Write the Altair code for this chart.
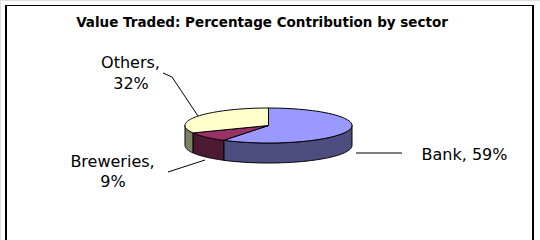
import altair as alt
import pandas as pd

# ---- data ----
sectors = ["Bank", "Breweries", "Others"]
shares = [59, 9, 32]
title_text = "Value Traded: Percentage Contribution by sector"

# ---- styles ----
top_colors = ["#9999FF", "#993366", "#FFFFCC"]
side_colors = ["#4D4D80", "#4D1A33", "#808066"]
FONT = "DejaVu Sans"

df = pd.DataFrame({"sector": sectors, "share": shares, "ord": list(range(len(sectors)))})

W, H = 540, 240
CX, CY, RX, RY, DEPTH = 268.5, 125.5, 83.5, 17.5, 20
depth_u = DEPTH / RY

xs = alt.Scale(domain=[-1, 1], range=[CX - RX, CX + RX])
ys = alt.Scale(domain=[-1, 1], range=[CY - RY, CY + RY])

base = (
    alt.Chart(df)
    .transform_window(cum="sum(share)", sort=[alt.SortField("ord")], frame=[None, 0])
    .transform_joinaggregate(total="sum(share)")
    .transform_calculate(a0="2*PI*(datum.cum - datum.share)/datum.total")
    .transform_calculate(a1="2*PI*datum.cum/datum.total")
)

side = (
    base.transform_calculate(b0="max(datum.a0, PI/2)")
    .transform_calculate(b1="min(datum.a1, 3*PI/2)")
    .transform_filter("datum.b0 < datum.b1")
    .transform_calculate(k="sequence(0, 61)")
    .transform_flatten(["k"])
    .transform_calculate(t="datum.b0 + (datum.b1 - datum.b0)*datum.k/60")
    .transform_calculate(px="sin(datum.t)")
    .transform_calculate(py="-cos(datum.t)")
    .transform_calculate(py2=f"-cos(datum.t) + {depth_u}")
    .mark_area(stroke="black", strokeWidth=1, opacity=1)
    .encode(
        x=alt.X("px:Q", scale=xs, axis=None),
        y=alt.Y("py:Q", scale=ys, axis=None, stack=None),
        y2="py2:Q",
        color=alt.Color("sector:N", scale=alt.Scale(domain=sectors, range=side_colors), legend=None),
        detail="sector:N",
    )
)

top = (
    base.transform_calculate(k="sequence(-1, 62)")
    .transform_flatten(["k"])
    .transform_calculate(t="datum.a0 + (datum.a1 - datum.a0)*min(max(datum.k, 0), 60)/60")
    .transform_calculate(ctr="datum.k < 0 || datum.k > 60")
    .transform_calculate(px="datum.ctr ? 0 : sin(datum.t)")
    .transform_calculate(py="datum.ctr ? 0 : -cos(datum.t)")
    .mark_line(filled=True, stroke="black", strokeWidth=1)
    .encode(
        x=alt.X("px:Q", scale=xs, axis=None),
        y=alt.Y("py:Q", scale=ys, axis=None),
        color=alt.Color("sector:N", scale=alt.Scale(domain=sectors, range=top_colors), legend=None),
        detail="sector:N",
        order="k:Q",
    )
)

one = pd.DataFrame({"a": [0]})


def rule(x1, y1, x2, y2, w=1):
    return alt.Chart(one).mark_rule(color="black", strokeWidth=w).encode(
        x=alt.value(x1), y=alt.value(y1), x2=alt.value(x2), y2=alt.value(y2)
    )


def txt(s, x, y, size=16, bold=False):
    return alt.Chart(one).mark_text(
        font=FONT, fontSize=size, fontWeight="bold" if bold else "normal",
        align="center", baseline="alphabetic", color="black",
    ).encode(x=alt.value(x), y=alt.value(y), text=alt.value(s))


frame = [
    rule(6, 5, 6, 260, 2),
    rule(533, 5, 533, 260, 2),
    rule(5, 5.5, 534, 5.5, 1),
]

leaders = [
    rule(163, 73, 172, 77),
    rule(172, 77, 198, 116),
    rule(168, 172, 205, 160),
    rule(356, 153, 402, 153),
]

labels = [
    txt(title_text, 262, 27, 13.5, True),
    txt(f"{sectors[2]},", 130.5, 68),
    txt(f"{shares[2]}%", 131, 89),
    txt(f"{sectors[1]},", 112.5, 167),
    txt(f"{shares[1]}%", 113, 187),
    txt(f"{sectors[0]}, {shares[0]}%", 464.5, 160),
]

chart = (
    alt.layer(side, top, *frame, *leaders, *labels)
    .resolve_scale(color="independent")
    .properties(width=W, height=H, autosize=alt.AutoSizeParams(type="none"), padding=0)
    .configure_view(stroke=None)
    .configure(background="white")
)

chart.save("out.html", embed_options={"renderer": "svg", "actions": False})
